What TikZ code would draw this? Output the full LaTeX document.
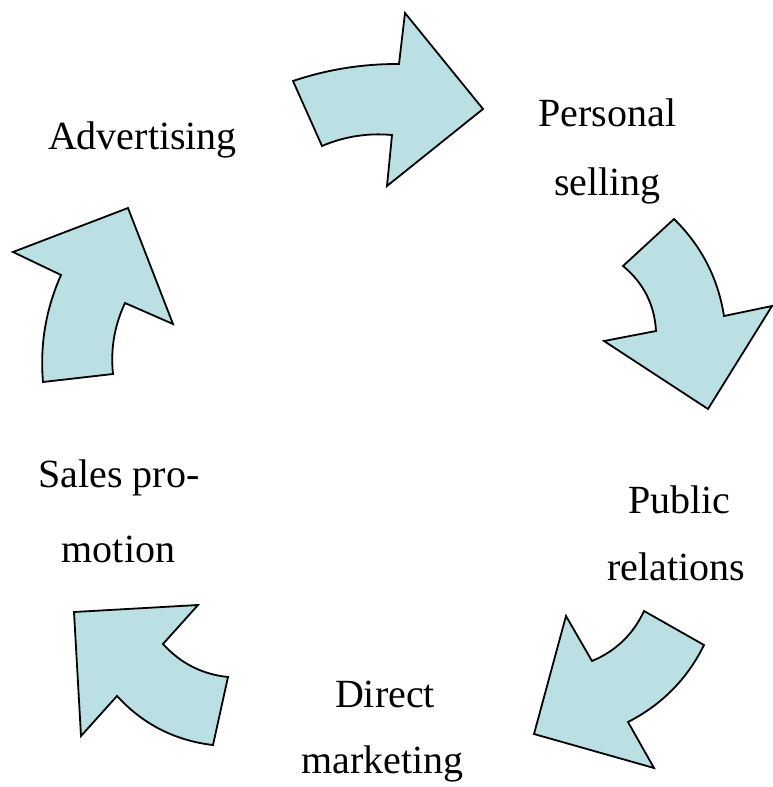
\documentclass[tikz,border=0pt]{standalone}
\usepackage{fontspec}
\setmainfont{Liberation Serif}
\definecolor{arrowfill}{RGB}{187,224,227}
\tikzset{
  bigarrow/.style={fill=arrowfill, draw=black, line width=1.8pt, line join=miter},
  lbl/.style={anchor=base, inner sep=0pt, font=\fontsize{40}{48}\selectfont}
}
\begin{document}
\begin{tikzpicture}[x=1pt,y=-1pt]
\useasboundingbox (0,0) rectangle (773,787);
% top arrow (Advertising -> Personal selling)
\draw[bigarrow] (293,81) .. controls (327.4,69.4) and (362.7,63.8) .. (399,64)
  -- (405,13) -- (483,109) -- (387,186) -- (392,135)
  .. controls (367.8,132.8) and (344.4,136.4) .. (322,146) -- cycle;
% right arrow (Personal selling -> Public relations)
\draw[bigarrow] (674,219) -- (623,266)
  .. controls (643.5,282.9) and (654.5,304.5) .. (656,331)
  -- (604,341) -- (708,409) -- (772,306) -- (724,316)
  .. controls (718,278.2) and (701.4,245.8) .. (674,219) -- cycle;
% bottom-right arrow (Public relations -> Direct marketing)
\draw[bigarrow] (644,611) -- (704,645)
  .. controls (687.2,679.1) and (661.8,704.7) .. (628,722)
  -- (654,768) -- (534,734) -- (566,616) -- (592,661)
  .. controls (615.8,651) and (633.2,634.4) .. (644,611) -- cycle;
% bottom-left arrow (Direct marketing -> Sales promotion)
\draw[bigarrow] (74,612) -- (198,605) -- (163,644)
  .. controls (180.5,663.3) and (202.1,674.3) .. (228,677)
  -- (213,745)
  .. controls (174.9,740.6) and (142.9,724.2) .. (117,696)
  -- (81,736) -- cycle;
% left arrow (Sales promotion -> Advertising)
\draw[bigarrow] (43,382) -- (113,374)
  .. controls (110.4,349.2) and (114.4,325.6) .. (125,303)
  -- (173,324) -- (128,208) -- (13,252) -- (61,275)
  .. controls (45.8,309.2) and (39.8,344.8) .. (43,382) -- cycle;
% labels
\node[lbl] (adv) at (142.5,149) {Advertising};
\node[lbl] (ps1) at (607.5,126) {Personal};
\node[lbl] (ps2) at (607.5,195) {selling};
\node[lbl] (pr1) at (679.5,513) {Public};
\node[lbl] (pr2) at (676,580) {relations};
\node[lbl] (dm1) at (385,707) {Direct};
\node[lbl] (dm2) at (382.5,773) {marketing};
\node[lbl] (sp1) at (119,487) {Sales pro-};
\node[lbl] (sp2) at (118.5,562) {motion};
\end{tikzpicture}
\end{document}
